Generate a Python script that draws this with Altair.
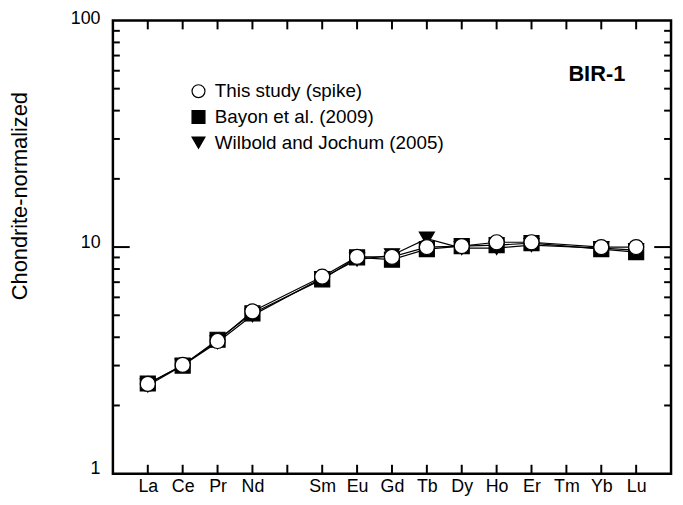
import altair as alt
import pandas as pd

FONT = "Liberation Sans"

elements = ["La", "Ce", "Pr", "Nd", "Pm", "Sm", "Eu", "Gd", "Tb", "Dy", "Ho", "Er", "Tm", "Yb", "Lu"]

series_names = ["This study (spike)", "Bayon et al. (2009)", "Wilbold and Jochum (2005)"]

this_study = [2.49, 3.02, 3.85, 5.2, None, 7.4, 9.05, 9.05, 10.0, 10.1, 10.5, 10.5, None, 10.0, 10.0]
bayon = [2.5, 3.0, 3.9, 5.1, None, 7.2, 9.0, 8.8, 9.8, 10.1, 10.2, 10.4, None, 9.8, 9.5]
wilbold = [2.45, 3.0, 3.8, 5.0, None, 7.3, 8.8, 9.2, 10.9, 9.9, 9.9, 10.2, None, 9.9, 9.7]

y_major_ticks = [1, 10, 100]
y_minor_ticks = [2, 3, 4, 5, 6, 7, 8, 9, 20, 30, 40, 50, 60, 70, 80, 90]
y_long_ticks = [10]

W, H = 564, 458

# long table, drawn so that circles are on top
rows = []
for name, vals in [(series_names[2], wilbold), (series_names[1], bayon), (series_names[0], this_study)]:
    for i, (el, v) in enumerate(zip(elements, vals)):
        if v is not None:
            rows.append({"series": name, "element": el, "idx": i + 1, "v": v})
df = pd.DataFrame(rows)

xs = alt.Scale(domain=[0, len(elements) + 1], nice=False, zero=False)
ys = alt.Scale(type="log", domain=[1, 100], nice=False)

label_list = [""] + [("" if e == "Pm" else e) for e in elements]
label_expr = "[" + ",".join("'%s'" % s for s in label_list) + "][datum.value]"

x_axis = alt.Axis(values=list(range(1, len(elements) + 1)), labelExpr=label_expr, ticks=False, tickSize=0,
                  domain=False, grid=False, title=None, labelFontSize=18, labelFont=FONT,
                  labelColor="black", labelPadding=18, labelBaseline="alphabetic",
                  labelOverlap=False, labelFlush=False, labelAngle=0)
y_axis = alt.Axis(values=y_major_ticks, format="d", ticks=False, tickSize=0, domain=False, grid=False,
                  title="Chondrite-normalized", titleFontSize=22, titleFontWeight="normal", titleFont=FONT,
                  titleColor="black", titleX=-87, titleY=177, titleAngle=270, titleBaseline="alphabetic",
                  titleAlign="center", labelFontSize=18, labelFont=FONT, labelColor="black",
                  labelPadding=13, labelBaseline="alphabetic",
                  labelOffset=alt.condition("datum.value == 100", alt.value(3), alt.value(0)))

x_enc = alt.X("idx:Q", scale=xs, axis=x_axis)
y_enc = alt.Y("v:Q", scale=ys, axis=y_axis)

leg = alt.Legend(title=None, orient="none", legendX=77, legendY=62, labelFontSize=19, labelFont=FONT,
                 labelColor="black", symbolSize=170, symbolStrokeColor="black", symbolStrokeWidth=1.2,
                 labelOffset=7, rowPadding=6, padding=0, labelLimit=0)

base = alt.Chart(df)

lines = base.mark_line(color="black", strokeWidth=1.2).encode(
    x=x_enc, y=y_enc, detail="series:N", order="idx:Q")

points = base.mark_point(filled=True, size=230, strokeWidth=1.2, opacity=1).encode(
    x=x_enc, y=y_enc,
    shape=alt.Shape("series:N", scale=alt.Scale(domain=series_names, range=["circle", "square", "triangle-down"]), legend=leg),
    fill=alt.Fill("series:N", scale=alt.Scale(domain=series_names, range=["white", "black", "black"]), legend=leg),
    stroke=alt.Stroke("series:N", scale=alt.Scale(domain=series_names, range=["black", "black", "black"]), legend=leg),
)

df_minor = pd.DataFrame({"v": y_minor_ticks})
df_long = pd.DataFrame({"v": y_long_ticks})
df_x = pd.DataFrame({"idx": list(range(1, len(elements) + 1))})

rule = dict(color="black", strokeWidth=2)
left_minor = alt.Chart(df_minor).mark_rule(**rule).encode(y=y_enc, x=alt.value(0), x2=alt.value(7))
right_minor = alt.Chart(df_minor).mark_rule(**rule).encode(y=y_enc, x=alt.value(W), x2=alt.value(W - 7))
left_long = alt.Chart(df_long).mark_rule(**rule).encode(y=y_enc, x=alt.value(0), x2=alt.value(17))
right_long = alt.Chart(df_long).mark_rule(**rule).encode(y=y_enc, x=alt.value(W), x2=alt.value(W - 17))
bottom_ticks = alt.Chart(df_x).mark_rule(**rule).encode(x=x_enc, y=alt.value(H), y2=alt.value(H - 9))
top_ticks = alt.Chart(df_x).mark_rule(**rule).encode(x=x_enc, y=alt.value(0), y2=alt.value(9))

label = alt.Chart(pd.DataFrame({"t": ["BIR-1"]})).mark_text(
    font=FONT, fontSize=22, fontWeight="bold", color="black", align="center", baseline="alphabetic"
).encode(text="t:N", x=alt.value(489), y=alt.value(61))

chart = alt.layer(
    left_minor, right_minor, left_long, right_long, bottom_ticks, top_ticks,
    lines, points, label
).properties(
    width=W, height=H,
    background="white",
    autosize=alt.AutoSizeParams(type="none"),
    padding={"left": 106, "top": 10, "right": 4, "bottom": 24},
).configure_view(stroke="black", strokeWidth=2.5)

chart.save("out.html", embed_options={"renderer": "svg", "actions": False})
